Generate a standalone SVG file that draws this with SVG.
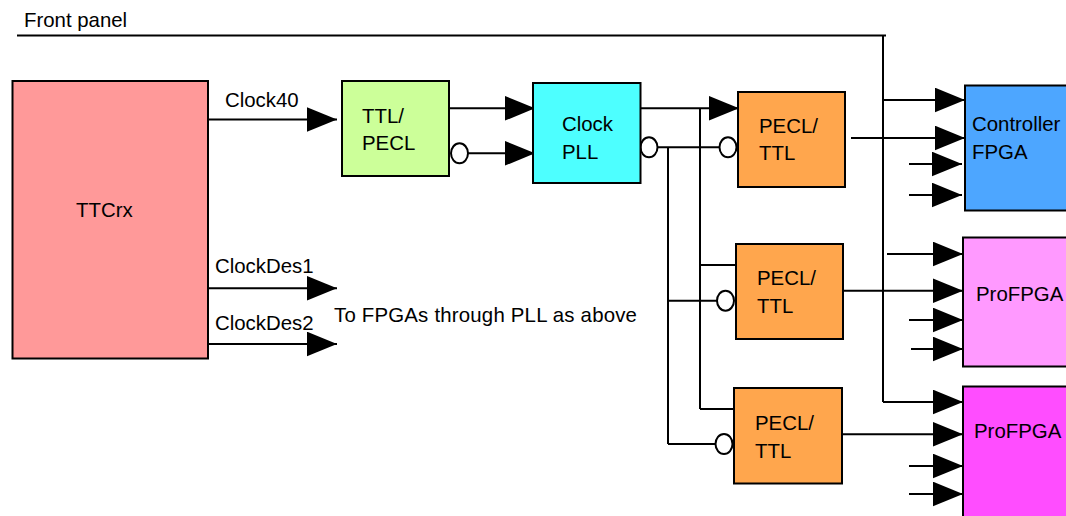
<svg xmlns="http://www.w3.org/2000/svg" width="1066" height="516" viewBox="0 0 1066 516">
<defs>
<marker id="arr" markerUnits="userSpaceOnUse" markerWidth="30" markerHeight="25" viewBox="0 0 28 23" refX="28" refY="11.5" orient="auto">
<path d="M0 0 L28 11.5 L0 23 Z" fill="#000"/>
</marker>
<style>
.box{stroke:#000;stroke-width:2}
.ln{fill:none;stroke:#000;stroke-width:2}
.a{marker-end:url(#arr)}
.inv{fill:#fff;stroke:#000;stroke-width:2}
text{font-family:"Liberation Sans",Arial,sans-serif;font-size:20.4px;fill:#000}
</style>
</defs>
<rect width="1066" height="516" fill="#fff"/>
<text x="24" y="27">Front panel</text>
<g id="connectors">
<path class="ln" d="M17 35.5 H886 M883 35.5 V402"/>
<path class="ln a" d="M883 100 H965"/>
<path class="ln a" d="M887 254 H963"/>
<path class="ln a" d="M883 402 H963"/>
<path class="ln a" d="M208 119.5 H337"/>
<path class="ln a" d="M449 108.3 H535"/>
<path class="ln a" d="M468 153.3 H535"/>
<ellipse class="inv" cx="459.5" cy="153.3" rx="8.5" ry="10"/>
<path class="ln a" d="M640 108.3 H739"/>
<path class="ln" d="M657.5 147.3 H719.5"/>
<ellipse class="inv" cx="649" cy="147.3" rx="8.5" ry="10"/>
<ellipse class="inv" cx="728" cy="147.3" rx="8.5" ry="10"/>
<path class="ln" d="M700 108.3 V409 M700 265 H736 M700 409 H734"/>
<path class="ln" d="M668 147.3 V444 M668 300.7 H717 M668 444 H716"/>
<ellipse class="inv" cx="725.5" cy="300.7" rx="8.5" ry="10"/>
<ellipse class="inv" cx="724" cy="444" rx="8.5" ry="10"/>
<path class="ln a" d="M851 138 H965"/>
<path class="ln a" d="M844 290.7 H963"/>
<path class="ln a" d="M842 434.3 H963"/>
<path class="ln a" d="M909 164 H962"/>
<path class="ln a" d="M909 195 H962"/>
<path class="ln a" d="M909 320 H963"/>
<path class="ln a" d="M911 349 H963"/>
<path class="ln a" d="M909 466 H963"/>
<path class="ln a" d="M909 494 H963"/>
<path class="ln a" d="M208 288.3 H337"/>
<path class="ln a" d="M208 344 H337"/>
<text x="225" y="106.7">Clock40</text>
<text x="215" y="273">ClockDes1</text>
<text x="215" y="330">ClockDes2</text>
<text x="334" y="322" letter-spacing="0.2">To FPGAs through PLL as above</text>
</g>
<g id="ttcrx">
<rect class="box" x="12.5" y="81" width="195.5" height="277.5" fill="#FF9999"/>
<text x="76" y="217">TTCrx</text>
</g>
<g id="ttl-pecl">
<rect class="box" x="342" y="81" width="107" height="95" fill="#CCFF99"/>
<text x="362" y="123">TTL/</text>
<text x="362" y="150">PECL</text>
</g>
<g id="clock-pll">
<rect class="box" x="533" y="83" width="107.5" height="100" fill="#4DFFFF"/>
<text x="562" y="131">Clock</text>
<text x="562" y="159">PLL</text>
</g>
<g id="pecl-ttl-1">
<rect class="box" x="738" y="92" width="107" height="95" fill="#FFA64D"/>
<text x="759" y="133">PECL/</text>
<text x="759" y="160">TTL</text>
</g>
<g id="pecl-ttl-2">
<rect class="box" x="736" y="244" width="107" height="95" fill="#FFA64D"/>
<text x="757" y="285">PECL/</text>
<text x="757" y="312.7">TTL</text>
</g>
<g id="pecl-ttl-3">
<rect class="box" x="734" y="388" width="108" height="95.5" fill="#FFA64D"/>
<text x="755" y="430">PECL/</text>
<text x="755" y="458">TTL</text>
</g>
<g id="controller-fpga">
<rect class="box" x="965" y="85.5" width="110" height="125" fill="#4DA6FF"/>
<text x="972" y="131">Controller</text>
<text x="972" y="159">FPGA</text>
</g>
<g id="profpga-1">
<rect class="box" x="963" y="237.5" width="110" height="129" fill="#FF99FF"/>
<text x="976" y="301">ProFPGA</text>
</g>
<g id="profpga-2">
<rect class="box" x="963" y="386.5" width="110" height="140" fill="#FF4DFF"/>
<text x="974" y="438">ProFPGA</text>
</g>
</svg>
